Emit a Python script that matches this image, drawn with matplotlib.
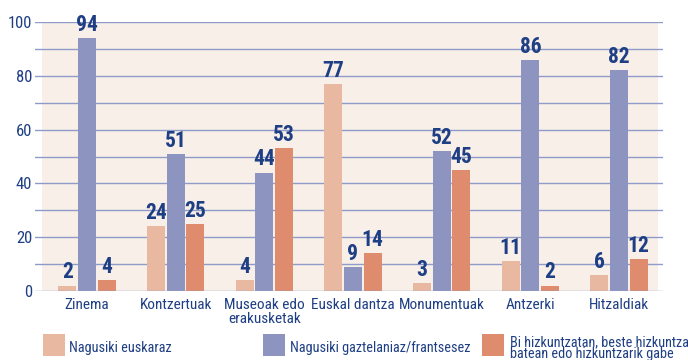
import matplotlib
matplotlib.use("Agg")
import matplotlib.pyplot as plt
from matplotlib import font_manager
from matplotlib.patches import Rectangle
import numpy as np

categories = ["Zinema", "Kontzertuak", "Museoak edo\nerakusketak", "Euskal dantza",
              "Monumentuak", "Antzerki", "Hitzaldiak"]
series_names = ["Nagusiki euskaraz", "Nagusiki gaztelaniaz/frantsesez",
                "Bi hizkuntzatan, beste hizkuntza\nbatean edo hizkuntzarik gabe"]
euskaraz = [2, 24, 4, 77, 3, 11, 6]
gaztelaniaz = [94, 51, 44, 9, 52, 86, 82]
bietan = [4, 25, 53, 14, 45, 2, 12]
y_ticks = [0, 20, 40, 60, 80, 100]

colors = ["#E9B8A0", "#8C94BF", "#DE8B6E"]
text_blue = "#1F3F84"
grid_col = "#8F9BC9"
bg_col = "#F8EFE9"

available = {f.name for f in font_manager.fontManager.ttflist}
family = "DejaVu Sans"
for cand in ["Liberation Sans Narrow", "Roboto Condensed", "Open Sans Condensed"]:
    if cand in available:
        family = cand
        break
plt.rcParams["font.family"] = [family, "DejaVu Sans"]

fig = plt.figure(figsize=(6.88, 3.6), dpi=100)
ax = fig.add_axes([35 / 688, 1 - 291 / 360, (663 - 35) / 688, (291 - 22) / 360])

x = np.arange(len(categories))
ax.set_xlim(-0.586, 6.496)
ax.set_ylim(0, 100)

ax.add_patch(Rectangle((-0.507, 0), 6.44 + 0.507, 100, facecolor=bg_col,
                       edgecolor="none", zorder=0))
for v in range(10, 101, 10):
    ax.axhline(v, color=grid_col, lw=1.0, zorder=1)
ax.axhline(0, color=grid_col, lw=1.0, zorder=3)

width = 0.203
step = 0.222
for i, (vals, col) in enumerate(zip([euskaraz, gaztelaniaz, bietan], colors)):
    pos = x + (i - 1) * step
    ax.bar(pos, vals, width=width, color=col, zorder=2)
    for px, v in zip(pos, vals):
        ax.text(px, v + 0.8, str(v), ha="center", va="bottom", fontsize=15.5,
                fontweight="bold", color=text_blue, zorder=4)

for s in ax.spines.values():
    s.set_visible(False)
ax.set_yticks(y_ticks)
ax.set_yticklabels([str(t) for t in y_ticks], color=text_blue, fontsize=12)
ax.tick_params(axis="y", length=0, pad=2)
ax.set_xticks(x)
ax.set_xticklabels(categories, color=text_blue, fontsize=11, linespacing=1.05)
ax.tick_params(axis="x", length=0, pad=5)

# legend entries laid out in figure pixels
leg = [(43, 69), (263, 290), (482, 510)]
for (sx, tx), name, col in zip(leg, series_names, colors):
    fig.patches.append(Rectangle((sx / 688, 1 - 356 / 360), 22 / 688, 22 / 360,
                                 transform=fig.transFigure, facecolor=col,
                                 edgecolor="none"))
    fig.text(tx / 688, 1 - 348 / 360, name, color=text_blue, fontsize=10.3,
             va="center", ha="left", linespacing=0.85)

fig.savefig("out.png", dpi=100)
